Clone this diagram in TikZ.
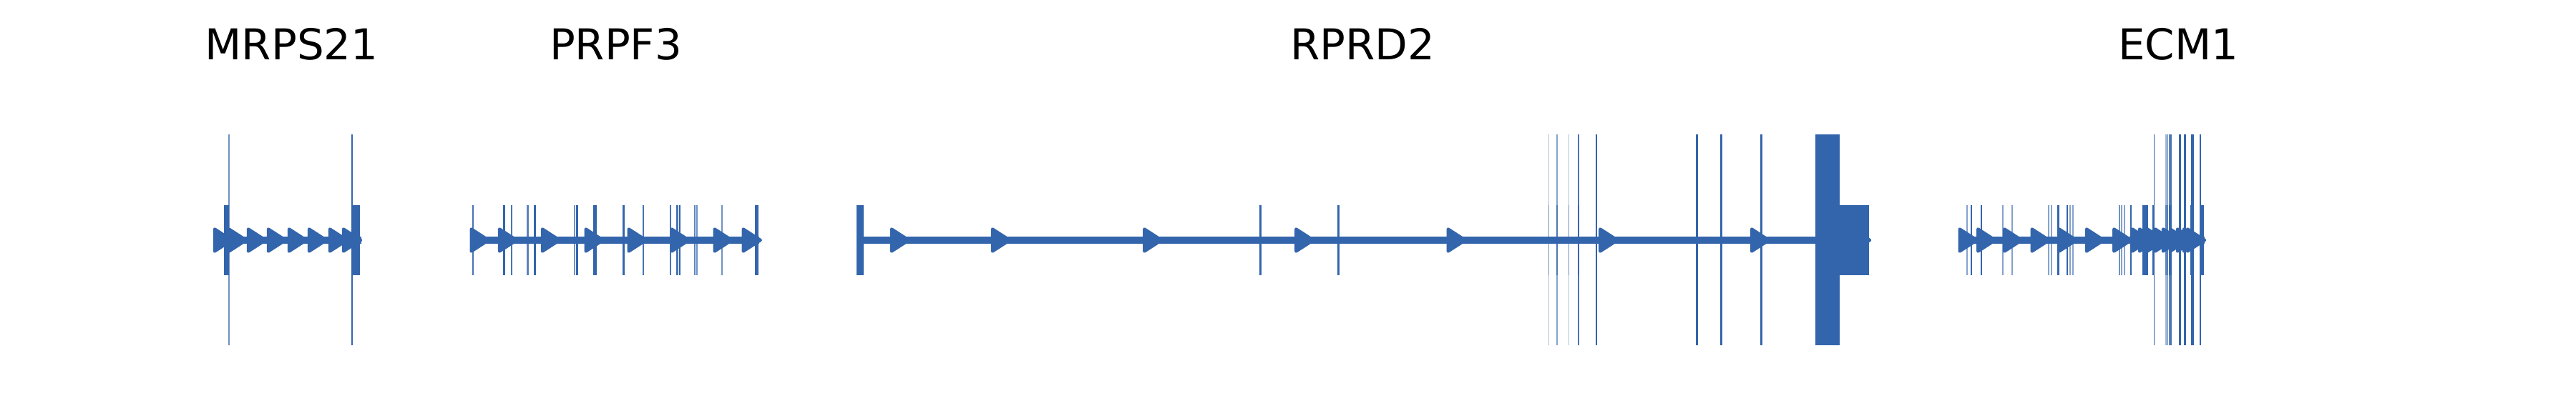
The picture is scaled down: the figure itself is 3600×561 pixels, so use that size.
\documentclass[tikz,border=0pt]{standalone}
\usepackage{fontspec}
\setmainfont{DejaVu Sans}
\definecolor{genecol}{RGB}{51,101,172}
\tikzset{
  genebody/.style={draw=genecol, line width=4.8pt},
  tri/.style={fill=genecol, draw=genecol, line width=2.2pt, line join=round},
  genelabel/.style={anchor=base, inner sep=0pt, font=\fontsize{29.7}{35}\selectfont, text=black}
}
\begin{document}
\begin{tikzpicture}[x=0.5pt,y=-0.5pt]
\useasboundingbox[fill=white] (0,0) rectangle (3600,561);

% labels
\node[genelabel] (lmrps) at (407.5,84) {MRPS21};
\node[genelabel] (lprpf) at (860.5,84) {PRPF3};
\node[genelabel] (lrprd) at (1904.2,84) {RPRD2};
\node[genelabel] (lecm) at (3044.2,84) {ECM1};

% ---------- MRPS21 ----------
\draw[genebody] (298,336) -- (505,336);
\foreach \t in {298,318,345,373,402,430,459,478}
  {\filldraw[tri] (\t+2,320.5) -- (\t+2,351.5) -- (\t+26,336) -- cycle;}
\fill[genecol] (312.7,287) rectangle (320,385);
\fill[genecol] (491.7,287) rectangle (503.3,385);
\fill[genecol, fill opacity=0.7] (319,188) rectangle (321,483);
\fill[genecol] (491,188) rectangle (493,483);

% ---------- PRPF3 ----------
\draw[genebody] (657,336) -- (1061,336);
\foreach \t in {656.7,696,756,816.7,876.7,936.7,996.7,1036.7}
  {\filldraw[tri] (\t+2,320.5) -- (\t+2,351.5) -- (\t+26,336) -- cycle;}
\foreach \x/\w/\o in {661/2.5/0.9, 704.3/3/1, 715/2.5/0.9, 737.7/2.5/0.8, 747.7/2.5/1,
    803.3/2/0.7, 806.7/2.5/1, 831.7/4.5/1, 871.7/2.5/1, 899.3/2/0.9, 936.7/2/0.9,
    946.7/2.5/0.9, 950/2.5/1, 970.7/2/0.8, 974.3/2/0.7, 1009.3/2/0.7, 1057.3/5/1}
  {\fill[genecol, fill opacity=\o] (\x-\w/2,287) rectangle (\x+\w/2,385);}

% ---------- RPRD2 ----------
\draw[genebody] (1202,336) -- (2612,336);
\foreach \t in {1244,1385,1597.3,1809.3,2021.7,2234.3,2446,2587}
  {\filldraw[tri] (\t+2,320.5) -- (\t+2,351.5) -- (\t+26,336) -- cycle;}
\fill[genecol] (1197.3,287) rectangle (1207.3,385);
\foreach \x/\w/\o in {1761.7/2.5/1, 1870.7/2.5/1,
    2164.3/1.5/0.5, 2175.7/2/0.7, 2192.7/1.5/0.5, 2206/2/0.8, 2231/2.5/0.9}
  {\fill[genecol, fill opacity=\o] (\x-\w/2,287) rectangle (\x+\w/2,385);}
\foreach \x/\w/\o in {2164.3/1.5/0.4, 2175.7/2/0.6, 2192.7/1.5/0.4, 2206/2/0.9,
    2231/2.5/1, 2371/3/1, 2405.7/3/1, 2461.7/2.5/1}
  {\fill[genecol, fill opacity=\o] (\x-\w/2,188) rectangle (\x+\w/2,483);}
\fill[genecol] (2536.7,188) rectangle (2571,483);
\fill[genecol] (2571,287) rectangle (2611.7,385);

% ---------- ECM1 ----------
\draw[genebody] (2737,336) -- (3081,336);
\foreach \t in {2736.7,2762.3,2799.3,2837.7,2875.7,2914,2952.3,
    2978,2988,2999,3010,3021,3031,3041,3050,3055}
  {\filldraw[tri] (\t+2,320.5) -- (\t+2,351.5) -- (\t+26,336) -- cycle;}
\foreach \x/\w/\o in {2749/2/0.6, 2755/2.5/1, 2769/2.5/1, 2799.3/2/0.6,
    2811.7/2/0.6, 2863.3/2/0.6, 2866.7/2/0.6, 2876.7/2.5/1, 2889/2.5/1,
    2893.3/2/0.6, 2896.7/2/0.6, 2962/2/0.7, 2965.3/2/0.6, 2968.7/2/0.6,
    2977.5/2/1, 2998.15/8.3/1, 3009.3/2.5/1, 3026.7/2/0.6, 3029/2/0.6,
    3031.7/2/0.9, 3034/2/0.9, 3046/3/1, 3053.3/3.3/1, 3062.7/2.5/1, 3065/2.5/1,
    3077/6/1}
  {\fill[genecol, fill opacity=\o] (\x-\w/2,287) rectangle (\x+\w/2,385);}
\foreach \x/\w/\o in {3010.3/1.5/1, 3026.7/2/0.45, 3029/2/0.55, 3031.7/2/0.8,
    3034/1.5/0.9, 3046/3/1, 3053.3/3.3/1, 3062.7/2/1, 3065.3/2/1, 3075/2.5/1}
  {\fill[genecol, fill opacity=\o] (\x-\w/2,188) rectangle (\x+\w/2,483);}
\end{tikzpicture}
\end{document}
